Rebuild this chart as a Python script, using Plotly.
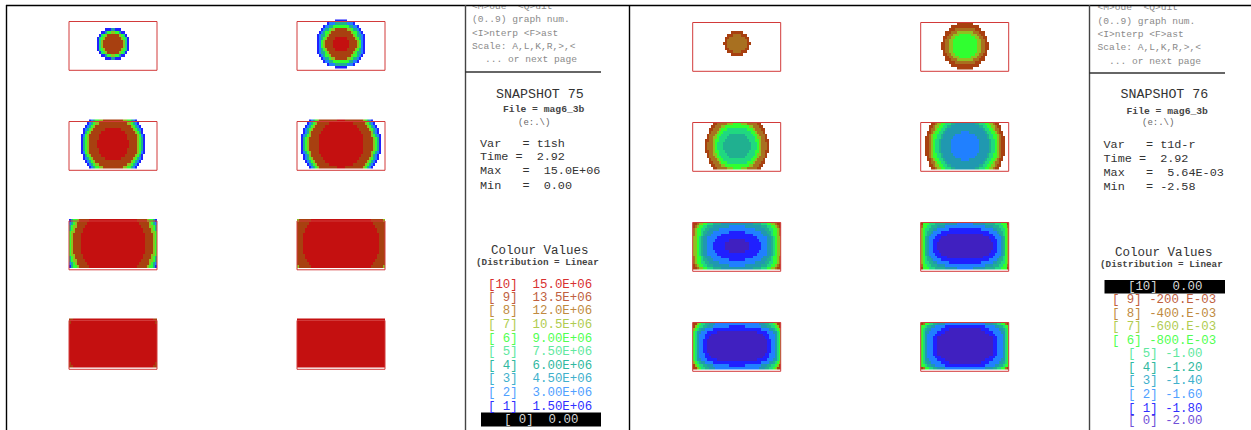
import numpy as np
import plotly.graph_objects as go

# ---- level grids: half rows, centre row first, centre column first. short rows = below range
L11 = ["99999751", "99999751", "99997651", "9997651", "766311", "3111", "", "", ""]
L12 = ["AAAA99997621", "AAAA99997621", "AAA999976421", "999999764421", "99999766421",
       "9997764421", "666644221", "4442221", "111"]
L21 = ["AAAAAAAA99997641", "AAAAAAAA99997641", "AAAAAAA999997641", "AAAAAAA999997621",
       "AAAAAA999997641", "AAAA99999976421", "99999999976421", "9999999776421", "999997766421"]
L22 = ["AAAAAAAAAAA999997641", "AAAAAAAAAAA999997641", "AAAAAAAAAAA999997641",
       "AAAAAAAAAAA999976421", "AAAAAAAAAA999997421", "AAAAAAAAA9999976421",
       "AAAAAAAA9999976421", "AAAAAA99999976421", "AA99999999976421"]
L31 = ["AAAAAAAAAAAAAAAA999976", "AAAAAAAAAAAAAAAA999976", "AAAAAAAAAAAAAAAA999976",
       "AAAAAAAAAAAAAAAA999976", "AAAAAAAAAAAAAAA9999776", "AAAAAAAAAAAAAAA9999764",
       "AAAAAAAAAAAAAA99997764", "AAAAAAAAAAAAA999997642", "AAAAAAAAAAAA9999976641"]
L32 = ["AAAAAAAAAAAAAAAAAAA999", "AAAAAAAAAAAAAAAAAAA999", "AAAAAAAAAAAAAAAAAAA999",
       "AAAAAAAAAAAAAAAAAAA999", "AAAAAAAAAAAAAAAAAA9999", "AAAAAAAAAAAAAAAAAA9999",
       "AAAAAAAAAAAAAAAAA99999", "AAAAAAAAAAAAAAAA999999", "AAAAAAAAAAAAAAA9999997"]
L41 = ["AAAAAAAAAAAAAAAAAAAAAA"] * 7 + ["AAAAAAAAAAAAAAAAAAAAA9", "AAAAAAAAAAAAAAAAAAAA99"]
L42 = ["AAAAAAAAAAAAAAAAAAAAAA"] * 9

R11 = ["8888899", "888889", "888899", "88999", "999", "", "", "", ""]
R12 = ["666666778899", "666666778899", "66666677889", "66666778899", "6667778899",
       "7777888999", "88888999", "9999999", "9999"]
R21 = ["4444444555678889", "4444444555678889", "4444445556678899", "444445555677889",
       "444455556678889", "55555556678889", "55555666788899", "6666667788899", "667778888899"]
R22 = ["22222223333345567899", "22222223333345567899", "22222223333345567899",
       "22222233333455667899", "2222233333345566789", "2233333333455667899",
       "333333333455667889", "333333344556677899", "33333445556677899"]
R31 = ["0000001111112223345677", "0000001111112223345677", "0000111111122223345677",
       "1111111111222223345677", "1111111122222333456678", "1111222222223334456678",
       "2222222223333344556678", "2222333333334445566789", "3333333344445556677899"]
R32 = ["0000000000000011223467", "0000000000000011223467", "0000000000000111223467",
       "0000000000001112223467", "0000000001111122234567", "1111111111112222344567",
       "1111111122222233445567", "2222222222333344455668", "2222333333444445556669"]
R41 = ["0000000000000001122356", "0000000000000001122356", "0000000000000001122356",
       "0000000000000011222356", "0000000000000111222356", "0000000000111112223356",
       "1111111111112222334567", "1111222222223334455679", "2222222222233344556799"]
R42 = ["0000000000000011222356", "0000000000000011222356", "0000000000000011222356",
       "0000000000000011222356", "0000000000001112222356", "0000000000111122223356",
       "0000000011112222233456", "1111111111222223344566", "2222222222333344556689"]

LEFT_PANELS = [L11, L12, L21, L22, L31, L32, L41, L42]
RIGHT_PANELS = [R11, R12, R21, R22, R31, R32, R41, R42]

# ---- palette of the ten levels
LEVEL_COLOURS = ["#4020c0", "#2020ff", "#2080ff", "#2098b0", "#20b090", "#20d880",
                 "#30ff30", "#90c020", "#a87020", "#a84010", "#c41010"]

# ---- side panel text
MENU = ["<M>ode  <Q>uit", "(0..9) graph num.", "<I>nterp <F>ast", "Scale: A,L,K,R,>,<"]
MORE = "... or next page"
LEFT_TITLE = "SNAPSHOT 75"
RIGHT_TITLE = "SNAPSHOT 76"
FILE_LINE = "File = mag6_3b"
DIR_LINE = "(e:.\\)"
LEFT_INFO = ["Var   = t1sh", "Time =  2.92", "Max   =  15.0E+06", "Min   =  0.00"]
RIGHT_INFO = ["Var   = t1d-r", "Time =  2.92", "Max   =  5.64E-03", "Min   = -2.58"]
COLOUR_TITLE = "Colour Values"
DIST_LINE = "(Distribution = Linear"
LEFT_VALUES = ["[10]  15.0E+06", "[ 9]  13.5E+06", "[ 8]  12.0E+06", "[ 7]  10.5E+06",
               "[ 6]  9.00E+06", "[ 5]  7.50E+06", "[ 4]  6.00E+06", "[ 3]  4.50E+06",
               "[ 2]  3.00E+06", "[ 1]  1.50E+06"]
LEFT_ZERO = "[ 0]  0.00"
RIGHT_VALUES = ["[ 9] -200.E-03", "[ 8] -400.E-03", "[ 7] -600.E-03", "[ 6] -800.E-03"]
RIGHT_VALUES2 = ["[ 5] -1.00", "[ 4] -1.20", "[ 3] -1.40", "[ 2] -1.60", "[ 1] -1.80", "[ 0] -2.00"]
RIGHT_ZERO = "[10]  0.00"
TEXT_COLOURS = {10: "#d83030", 9: "#c06040", 8: "#c08a40", 7: "#b0cc50", 6: "#50ff50", 5: "#60e8a0",
                4: "#30b8a0", 3: "#40b0cc", 2: "#50a0ff", 1: "#3030ff", 0: "#7050d8"}

MONO = "Liberation Mono"
FRAME = "#d23a3a"

fig = go.Figure()


def scale(levels):
    n = len(levels)
    cs = []
    for i, c in enumerate(levels):
        cs += [[i / n, c], [(i + 1) / n, c]]
    return cs


def grid(half_rows):
    rows = []
    for r in half_rows[:0:-1] + half_rows:
        r = r.ljust(22, ".")
        vals = [np.nan if ch == "." else (10 if ch == "A" else int(ch)) for ch in r]
        rows.append(vals[::-1] + vals)
    return rows


def panel(half_rows, cx, top, h, shift=0.0):
    dy = h / 17
    fig.add_trace(go.Heatmap(z=grid(half_rows), x0=cx - 44 + 1, dx=2, y0=top + shift + dy / 2, dy=dy,
                             zmin=-0.5, zmax=10.5, colorscale=scale(LEVEL_COLOURS),
                             showscale=False, hoverinfo="skip"))


# layout geometry in screen pixels
L_CX = [113, 341]
L_FRAME_TOP = [21.5, 121.5, 221, 320.5]
R_CX = [736.7, 964.7]
R_FRAME_TOP = [22.5, 122.5, 222.5, 322.5]
FRAME_H = 48.8
R_SHIFT = {0: -2.5}

for i, rows in enumerate(LEFT_PANELS):
    row, col = i // 2, i % 2
    panel(rows, L_CX[col], L_FRAME_TOP[row] - 2, 48.5)
for i, rows in enumerate(RIGHT_PANELS):
    row, col = i // 2, i % 2
    panel(rows, R_CX[col], R_FRAME_TOP[row], 47.2, R_SHIFT.get(i, 0.0))


def rect(x0, y0, x1, y1, fill=None, line=None, width=0, layer="above"):
    fig.add_shape(type="rect", x0=x0, y0=y0, x1=x1, y1=y1, layer=layer,
                  fillcolor=fill if fill else "rgba(0,0,0,0)",
                  line=dict(color=line if line else "rgba(0,0,0,0)", width=width))


def hline(x0, x1, y, color="#000000", width=1.4):
    fig.add_shape(type="line", x0=x0, x1=x1, y0=y, y1=y, layer="above", line=dict(color=color, width=width))


def vline(x, y0, y1, color="#000000", width=1.4):
    fig.add_shape(type="line", x0=x, x1=x, y0=y0, y1=y1, layer="above", line=dict(color=color, width=width))


# frames
for cx in L_CX:
    for top in L_FRAME_TOP:
        rect(cx - 44, top, cx + 44, top + FRAME_H, line=FRAME, width=1)
for cx in R_CX:
    for top in R_FRAME_TOP:
        rect(cx - 44, top, cx + 44, top + FRAME_H, line=FRAME, width=1)

# black bars behind the zero level
rect(481, 412.5, 601, 426.5, fill="#000000", layer="below")
rect(1104.5, 280, 1225, 293.5, fill="#000000", layer="below")

# masks that cut text as the screen did
rect(465, 0, 629, 5.5, fill="#ffffff")
rect(1089, 0, 1251, 5.5, fill="#ffffff")
rect(601, 160, 629, 182, fill="#ffffff")
rect(1225, 160, 1251, 182, fill="#ffffff")

# rules
hline(6, 1251, 5.5)
vline(6.5, 5, 430)
vline(629.5, 5, 430)
vline(465.5, 5, 430, "#444444")
vline(1089.5, 5, 430, "#444444")
hline(465, 601, 72, "#333333")
hline(1089, 1225, 73, "#333333")


def esc(s):
    return s.replace("&", "&amp;").replace("<", "&lt;").replace(">", "&gt;")


def text(labels, xs, ys, size, color="#333333", bold=False):
    fig.add_trace(go.Scatter(x=xs, y=ys, text=[esc(t) for t in labels], mode="text",
                             textposition="middle right",
                             textfont=dict(family=MONO, size=size, color=color,
                                           weight="bold" if bold else "normal"),
                             hoverinfo="skip", showlegend=False))


# left side panel
text(MENU, [472] * 4, [7, 20, 33.5, 47], 9.6, "#8a8a8a")
text([MORE], [485], [60], 9.6, "#8a8a8a")
text([LEFT_TITLE], [496], [94.5], 13.3)
text([FILE_LINE], [503], [109.5], 9.7, "#444444", True)
text([DIR_LINE], [518], [122.5], 9, "#666666")
text(LEFT_INFO, [480] * 4, [144, 157.5, 171.5, 186], 11.8)
text([COLOUR_TITLE], [491], [251], 12.5)
text([DIST_LINE], [476], [263], 9.3, "#444444", True)
text(LEFT_VALUES, [488] * 10, [285, 298, 311, 325, 338.5, 352, 365.5, 379, 392.5, 406.5], 12.4,
     [TEXT_COLOURS[k] for k in range(10, 0, -1)])
text([LEFT_ZERO], [504], [419.5], 12.4, "#d8d8d8")

# right side panel
text(MENU, [1097.5] * 4, [8, 21.5, 34.5, 48], 9.6, "#8a8a8a")
text([MORE], [1109], [61.5], 9.6, "#8a8a8a")
text([RIGHT_TITLE], [1120.5], [95], 13.3)
text([FILE_LINE], [1126.5], [111.5], 9.7, "#444444", True)
text([DIR_LINE], [1142], [122.5], 9, "#666666")
text(RIGHT_INFO, [1103.5] * 4, [145.5, 159.5, 173, 187.5], 11.8)
text([COLOUR_TITLE], [1115], [252.5], 12.5)
text([DIST_LINE], [1100], [265], 9.3, "#444444", True)
text([RIGHT_ZERO], [1128], [286.5], 12.4, "#d8d8d8")
text(RIGHT_VALUES, [1112] * 4, [299.5, 313.5, 327, 340.5], 12.4, [TEXT_COLOURS[k] for k in range(9, 5, -1)])
text(RIGHT_VALUES2, [1128] * 6, [354, 367.5, 381, 395, 408.5, 421], 12.4,
     [TEXT_COLOURS[k] for k in range(5, -1, -1)])

fig.update_layout(width=1251, height=430, margin=dict(l=0, r=0, t=0, b=0), autosize=False,
                  paper_bgcolor="#ffffff", plot_bgcolor="#ffffff", showlegend=False,
                  xaxis=dict(range=[0, 1251], visible=False, fixedrange=True),
                  yaxis=dict(range=[430, 0], visible=False, fixedrange=True))
fig.write_html("out.html", config={"displayModeBar": False},
               post_script="document.body.style.margin='0';document.body.style.overflow='hidden';")
